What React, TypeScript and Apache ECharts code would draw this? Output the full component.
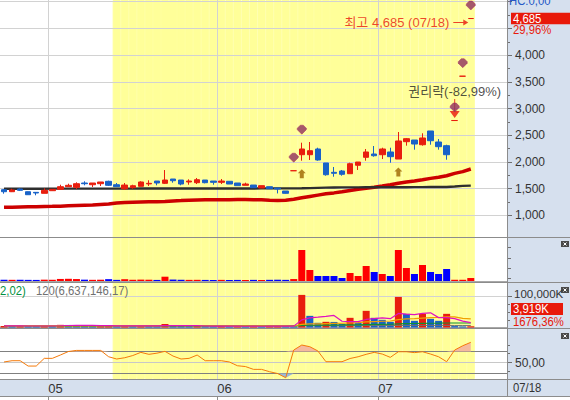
import React, { useEffect, useRef } from 'react';
import * as echarts from 'echarts';

// ---------------- data ----------------
const dates = [
  '04/22', '04/25', '04/26', '04/27', '04/28', '04/29',
  '05/02', '05/03', '05/04', '05/06', '05/09', '05/10', '05/11', '05/12', '05/13', '05/16', '05/17',
  '05/18', '05/19', '05/20', '05/23', '05/24', '05/25', '05/26', '05/27', '05/30', '05/31',
  '06/02', '06/03', '06/07', '06/08', '06/09', '06/10', '06/13', '06/14', '06/15', '06/16', '06/17',
  '06/20', '06/21', '06/22', '06/23', '06/24', '06/27', '06/28', '06/29', '06/30',
  '07/01', '07/04', '07/05', '07/06', '07/07', '07/08', '07/11', '07/12', '07/13', '07/14', '07/15', '07/18',
];
const futureSlots = ['+1', '+2', '+3', '+4'];

const opens = [
  1480, 1442, 1493, 1442, 1430, 1412, 1461, 1487, 1536, 1524,
  1605, 1573, 1592, 1637, 1573, 1498, 1517, 1543, 1588, 1642,
  1599, 1680, 1661, 1624, 1611, 1661, 1642, 1618, 1637, 1605,
  1562, 1567, 1511, 1536, 1511, 1455, 1835, 2135, 2135, 2242,
  1980, 1805, 1830, 1779, 1937, 2086, 2148, 2135, 2186, 2054,
  2379, 2410, 2322, 2579, 2373, 2304, 2775, 3605, 4685,
];
const closes = [
  1442, 1474, 1468, 1386, 1418, 1468, 1487, 1536, 1562, 1592,
  1592, 1605, 1624, 1562, 1536, 1567, 1554, 1624, 1599, 1605,
  1661, 1648, 1586, 1642, 1667, 1611, 1618, 1642, 1586, 1555,
  1586, 1517, 1555, 1498, 1493, 1412, 1835, 2242, 2210, 2036,
  1760, 1787, 1768, 1966, 1998, 2186, 2116, 2242, 2098, 2392,
  2435, 2335, 2448, 2397, 2285, 2135, 2775, 3605, 4685,
];
const lows = [
  1405, 1436, 1455, 1383, 1375, 1412, 1458, 1487, 1536, 1493,
  1562, 1530, 1549, 1549, 1536, 1474, 1498, 1543, 1549, 1562,
  1586, 1611, 1562, 1573, 1586, 1599, 1573, 1586, 1586, 1555,
  1562, 1517, 1511, 1493, 1410, 1405, 1835, 2023, 2036, 2023,
  1742, 1723, 1742, 1779, 1849, 2023, 2098, 2054, 1985, 2054,
  2304, 2229, 2304, 2322, 2229, 2041, 2775, 3605, 4685,
];
const highs = [
  1493, 1498, 1506, 1445, 1436, 1506, 1490, 1573, 1592, 1618,
  1637, 1605, 1624, 1648, 1605, 1605, 1573, 1637, 1656, 1642,
  1848, 1680, 1661, 1674, 1699, 1661, 1642, 1680, 1637, 1605,
  1611, 1567, 1555, 1536, 1511, 1455, 1835, 2360, 2373, 2266,
  1980, 1905, 1849, 1985, 1998, 2242, 2298, 2266, 2266, 2560,
  2448, 2410, 2536, 2579, 2429, 2322, 2775, 3605, 4685,
];
const maMid = [
  1150, 1153, 1156, 1159, 1162, 1165, 1168, 1172, 1180, 1185,
  1190, 1195, 1203, 1210, 1230, 1238, 1243, 1248, 1252, 1256,
  1260, 1270, 1276, 1284, 1288, 1291, 1292, 1293, 1293, 1294,
  1294, 1293, 1290, 1280, 1277, 1281, 1300, 1328, 1354, 1378,
  1402, 1420, 1442, 1466, 1487, 1506, 1524, 1548, 1573, 1602,
  1624, 1643, 1666, 1692, 1712, 1742, 1785, 1818, 1868,
];
const maLong = [
  1497, 1497, 1498, 1498, 1498, 1498, 1499, 1499, 1499, 1499,
  1499, 1500, 1500, 1500, 1500, 1500, 1500, 1501, 1501, 1501,
  1501, 1501, 1502, 1502, 1502, 1502, 1502, 1503, 1503, 1503,
  1503, 1503, 1504, 1504, 1504, 1504, 1505, 1507, 1510, 1514,
  1518, 1522, 1523, 1524, 1524, 1525, 1525, 1526, 1526, 1527,
  1527, 1528, 1528, 1529, 1529, 1530, 1540, 1552, 1556,
];
// panel 1 (trading value)
const tradeValue = [
  120, 115, 120, 110, 105, 130, 120, 200, 215, 190,
  130, 115, 125, 180, 110, 175, 120, 135, 125, 105,
  420, 140, 120, 110, 115, 105, 95, 110, 100, 105,
  95, 110, 100, 115, 125, 110, 190, 3030, 1075, 490,
  490, 490, 295, 780, 490, 1465, 880, 685, 490, 3030,
  1270, 685, 1565, 880, 685, 1170, 120, 120, 290,
];
// panel 2 (volume, K)
const volume = [
  5200, 4800, 5000, 4600, 4400, 5600, 5000, 8600, 8200, 7400,
  5200, 4600, 5000, 6800, 4400, 6600, 4800, 5400, 5000, 4200,
  11300, 5600, 4800, 4400, 4600, 4200, 3800, 4400, 4000, 4200,
  3800, 4400, 4000, 4600, 5200, 4800, 3200, 105500, 37700, 15200,
  18400, 18000, 11900, 31300, 15200, 53900, 31300, 24800, 18400, 99000,
  44200, 21600, 44200, 28100, 21600, 44200, 4500, 3500, 3919,
];
const volMa5 = [
  5100, 5000, 5000, 4900, 4800, 4900, 4900, 5600, 6400, 6800,
  6900, 6800, 6100, 5800, 5200, 5500, 5500, 5600, 5400, 5200,
  6300, 6300, 6200, 6100, 6200, 4800, 4400, 4300, 4200, 4200,
  4100, 4200, 4100, 4200, 4400, 4600, 4400, 24700, 31300, 33300,
  36000, 39000, 20200, 19000, 19000, 26000, 28700, 31300, 28700, 45500,
  43500, 41600, 45500, 47400, 32000, 32000, 28500, 20400, 15500,
];
const volMa20 = [
  5000, 5000, 5000, 5000, 5000, 5000, 5000, 5100, 5200, 5300,
  5300, 5300, 5300, 5400, 5400, 5400, 5400, 5500, 5500, 5500,
  5800, 5800, 5800, 5800, 5800, 5700, 5700, 5600, 5500, 5500,
  5400, 5300, 5200, 5100, 5100, 5000, 4900, 9900, 11500, 12000,
  12700, 13300, 13700, 15000, 15500, 18000, 19300, 20300, 21000, 25700,
  27700, 28600, 30600, 31800, 32400, 34400, 34400, 29400, 27700,
];
const volMa60 = [
  4800, 4800, 4800, 4800, 4800, 4800, 4800, 4800, 4800, 4800,
  4800, 4800, 4800, 4900, 4900, 4900, 4900, 4900, 5000, 5000,
  5100, 5100, 5100, 5100, 5100, 5100, 5100, 5100, 5100, 5100,
  5100, 5100, 5100, 5100, 5100, 5100, 5100, 6800, 7300, 7500,
  7800, 8000, 8200, 8600, 8800, 9500, 9900, 10200, 10500, 12000,
  12600, 12900, 13300, 13700, 13900, 14500, 14500, 14500, 14500,
];
const volMa120 = [
  5300, 5300, 5300, 5300, 5300, 5300, 5300, 5300, 5300, 5300,
  5300, 5300, 5300, 5300, 5300, 5300, 5300, 5300, 5300, 5300,
  5400, 5400, 5400, 5400, 5400, 5400, 5400, 5400, 5400, 5400,
  5400, 5400, 5400, 5400, 5400, 5400, 5400, 5800, 5950, 6000,
  6050, 6100, 6100, 6200, 6200, 6300, 6350, 6400, 6400, 6500,
  6550, 6600, 6600, 6650, 6650, 6700, 6650, 6640, 6637,
];
// panel 3 (oscillator)
const osc = [
  51, 53.3, 53.3, 43.6, 43.6, 57.6, 57.6, 63.6, 70, 72,
  72, 72, 72, 60.5, 56.4, 58.7, 62.7, 68.5, 64.9, 67,
  70.3, 61.8, 56.4, 57.6, 63.6, 53.3, 53.3, 53.3, 51, 44.2,
  42.7, 37.6, 37.6, 33.3, 30, 22.4, 72.7, 81.8, 78.7, 71,
  51.5, 51.5, 51.5, 57.3, 60.5, 64.9, 68.5, 65.4, 59.4, 69.6,
  69.6, 68, 69.6, 65.4, 60.5, 51.5, 72.7, 80.5, 86.7,
];

const priceTicks = [1000, 1500, 2000, 2500, 3000, 3500, 4000, 4500, 5000];
const priceLabels = [1000, 1500, 2000, 2500, 3000, 3500, 4000];
const priceMinorTicks = [1250, 1750, 2250, 2750, 3250, 3750, 4250, 4750];
const tradeTicks = [250, 1250, 2250, 3250];
const volumeTicks = [100000];
const volumeMinorTicks = [25000, 50000, 75000];
const oscTicks = [50];
const oscMinorTicks = [34, 66, 82];
const oscLevels = [30, 50, 70];
const oscUpper = 70;
const oscLower = 30;
const highlightFrom = 14;
const sellSignals = [36, 37, 56, 57, 58];
const buySignals = [37, 49];
const rightsOffIndex = 56;
const rightsOffText = '권리락(-82,99%)';
const volLegendTail = '2,02)';
const volLegend120 = '120(6,637,146,17)';
const volRatioText = '1676,36%';
const hcText = 'HC:0,00';

// ---------------- styling ----------------
const FONT = '"Liberation Sans", Arial, "Noto Sans CJK KR", sans-serif';
const RED = '#E81E0E';
const BLUE = '#1862C8';
const VRED = '#FF0000';
const VBLUE = '#0000FF';
const YELLOW = '#FFFF99';
const PANEL = '#D6E0EE';
const SEP = '#8C8C8C';
const GRIDLINE = '#D2D2D2';
const TXT = '#333333';
const NARROW = 0.87;

const SELL_SYMBOL = 'path://M3,0 L6,0 L9,3 L9,4.5 L4.5,9 L0,4.5 L0,3 Z';
const BUY_SYMBOL = 'path://M4,0 L8,4 L6,4 L6,9 L2,9 L2,4 L0,4 Z';
const RIGHTS_SYMBOL = 'path://M4.5,0 L5.5,0 L5.5,12 L10,12 L5,19 L0,12 L4.5,12 Z';
const ARROW_SYMBOL = 'path://M0,2.5 L10,2.5 L10,0 L15,3 L10,6 L10,3.5 L0,3.5 Z';

const slots = [...dates, ...futureSlots];
const boundaries = [...slots, 'end'];
const fmt = (v: number) => v.toLocaleString('en-US');
const isMonthStart = (i: number) =>
  i > 0 && i < dates.length && dates[i].slice(0, 2) !== dates[i - 1].slice(0, 2);
const candleSign = dates.map((_, i) =>
  closes[i] > opens[i] ? 1 : closes[i] < opens[i] ? -1 : i === 0 || closes[i] >= closes[i - 1] ? 1 : -1
);
const volUp = volume.map((v, i) => i === 0 || v >= volume[i - 1]);
const last = dates.length - 1;
const maxIdx = highs.indexOf(Math.max(...highs));

const catAxis = (gridIndex: number, extra: any = {}) => ({
  gridIndex,
  type: 'category',
  data: slots,
  boundaryGap: true,
  axisLine: { show: false },
  axisTick: { show: false },
  axisLabel: { show: false },
  splitLine: { show: false },
  ...extra,
});

const gridBase = { left: 0, right: 63, containLabel: false, outerBoundsMode: 'none', show: false };

function buildOption(): any {
  const labelFont = { color: TXT, fontSize: 12, fontFamily: FONT };
  const oscAxis = { xAxisIndex: 3, yAxisIndex: 5, symbol: 'none', silent: true };
  return {
    animation: false,
    backgroundColor: '#ffffff',
    textStyle: { fontFamily: FONT },
    grid: [
      { ...gridBase, top: 0, height: 237 },
      { ...gridBase, top: 238, height: 43 },
      { ...gridBase, top: 283, height: 44.5 },
      { ...gridBase, top: 329.5, height: 49 },
      { ...gridBase, top: 379, height: 17 },
      { ...gridBase, top: 0, height: 379 },
    ],
    xAxis: [
      catAxis(0),
      catAxis(1, { z: 1, axisLine: { show: true, lineStyle: { color: '#A8A8A8', width: 1 } } }),
      catAxis(2, { z: 1, axisLine: { show: true, lineStyle: { color: '#A8A8A8', width: 1 } } }),
      catAxis(3),
      {
        gridIndex: 4,
        type: 'category',
        data: boundaries,
        boundaryGap: false,
        position: 'top',
        axisLine: { show: false },
        axisTick: {
          show: true,
          inside: true,
          length: 17,
          interval: (i: number) => isMonthStart(i),
          lineStyle: { color: SEP, width: 1 },
        },
        axisLabel: {
          show: true,
          inside: true,
          margin: 3,
          align: 'left',
          interval: (i: number) => isMonthStart(i),
          formatter: (v: string) => v.slice(0, 2),
          ...labelFont,
          fontSize: 13,
        },
        splitLine: { show: false },
      },
      catAxis(5, {
        z: 1,
        splitLine: { show: true, interval: (i: number) => isMonthStart(i), lineStyle: { color: GRIDLINE, width: 1 } },
      }),
    ],
    yAxis: [
      {
        gridIndex: 0, type: 'value', position: 'right', min: 594, max: 5032,
        axisLine: { show: false }, splitLine: { show: false },
        axisTick: { show: true, customValues: priceTicks, length: 5, lineStyle: { color: '#707070' } },
        axisLabel: { show: true, customValues: priceLabels, formatter: (v: number) => fmt(v), margin: 8, ...labelFont },
      },
      {
        gridIndex: 0, type: 'value', position: 'right', min: 594, max: 5032,
        axisLine: { show: false }, splitLine: { show: false },
        axisTick: { show: true, customValues: priceMinorTicks, length: 3, lineStyle: { color: '#707070' } },
        axisLabel: { show: false },
      },
      {
        gridIndex: 1, type: 'value', position: 'right', min: 0, max: 4200,
        axisLine: { show: false }, splitLine: { show: false },
        axisTick: { show: true, customValues: tradeTicks, length: 4, lineStyle: { color: '#707070' } },
        axisLabel: { show: false },
      },
      {
        gridIndex: 2, type: 'value', position: 'right', min: 0, max: 144000,
        axisLine: { show: false }, splitLine: { show: false },
        axisTick: { show: true, customValues: volumeTicks, length: 5, lineStyle: { color: '#707070' } },
        axisLabel: {
          show: true, customValues: volumeTicks, formatter: (v: number) => fmt(v) + 'K', margin: 7,
          ...labelFont, fontSize: 11.5, verticalAlign: 'bottom', padding: [0, 0, -3, 0],
        },
      },
      {
        gridIndex: 2, type: 'value', position: 'right', min: 0, max: 144000,
        axisLine: { show: false }, splitLine: { show: false },
        axisTick: { show: true, customValues: volumeMinorTicks, length: 3, lineStyle: { color: '#707070' } },
        axisLabel: { show: false },
      },
      {
        gridIndex: 3, type: 'value', position: 'right', min: 21, max: 110,
        axisLine: { show: false }, splitLine: { show: false },
        axisTick: { show: true, customValues: oscTicks, length: 5, lineStyle: { color: '#707070' } },
        axisLabel: {
          show: true, customValues: oscTicks, margin: 8,
          formatter: (v: number) => v.toFixed(2).replace('.', ','), ...labelFont,
        },
      },
      {
        gridIndex: 3, type: 'value', position: 'right', min: 21, max: 110,
        axisLine: { show: false }, splitLine: { show: false },
        axisTick: { show: true, customValues: oscMinorTicks, length: 3, lineStyle: { color: '#707070' } },
        axisLabel: { show: false },
      },
      { gridIndex: 4, type: 'value', show: false, min: 0, max: 1 },
      { gridIndex: 5, type: 'value', show: false, min: 0, max: 1 },
    ],
    series: [
      // highlight band
      {
        type: 'bar', xAxisIndex: 5, yAxisIndex: 8, z: 0, silent: true, barWidth: '100%',
        data: slots.map((_, i) => (i >= highlightFrom && i < dates.length ? 1 : null)),
        itemStyle: { color: YELLOW, borderColor: YELLOW, borderWidth: 1 },
      },
      // price grid lines
      {
        type: 'line', xAxisIndex: 0, yAxisIndex: 0, z: 1, data: [], silent: true,
        markLine: {
          z: 1, silent: true, symbol: ['none', 'none'], label: { show: false },
          lineStyle: { color: GRIDLINE, width: 1, type: 'solid' },
          data: priceTicks.map((v) => ({ yAxis: v })),
        },
      },
      // red MA
      {
        type: 'line', xAxisIndex: 0, yAxisIndex: 0, z: 2, data: maMid, symbol: 'none', silent: true,
        lineStyle: { color: '#CC0000', width: 3.5 },
      },
      // black MA
      {
        type: 'line', xAxisIndex: 0, yAxisIndex: 0, z: 2, data: maLong, symbol: 'none', silent: true,
        lineStyle: { color: '#2E2E2E', width: 2.4 },
      },
      // candles
      {
        type: 'candlestick', xAxisIndex: 0, yAxisIndex: 0, z: 3, barWidth: 6,
        data: dates.map((_, i) => [opens[i], closes[i], lows[i], highs[i]]),
        itemStyle: {
          color: RED, color0: BLUE, borderColor: RED, borderColor0: BLUE, borderColorDoji: RED, borderWidth: 1,
        },
      },
      // rights-off marker
      {
        type: 'scatter', xAxisIndex: 0, yAxisIndex: 0, z: 4,
        data: [[rightsOffIndex, highs[rightsOffIndex]]],
        symbol: RIGHTS_SYMBOL, symbolSize: [10, 19], symbolOffset: [0, -12],
        itemStyle: { color: '#E8140A' },
        label: { show: true, position: 'top', distance: 1, formatter: rightsOffText, color: '#222', fontSize: 13, fontFamily: FONT },
      },
      // sell markers
      {
        type: 'scatter', xAxisIndex: 0, yAxisIndex: 0, z: 5,
        data: sellSignals.map((i) => [i, highs[i]]),
        symbol: SELL_SYMBOL, symbolSize: [9, 9], symbolOffset: [0, -13],
        itemStyle: { color: '#8E2F5E', borderColor: '#A8285A', borderWidth: 0.6 },
      },
      // buy markers
      {
        type: 'scatter', xAxisIndex: 0, yAxisIndex: 0, z: 5,
        data: buySignals.map((i) => [i, lows[i]]),
        symbol: BUY_SYMBOL, symbolSize: [8, 9], symbolOffset: [0, 13],
        itemStyle: { color: '#9C6400' },
      },
      // high marker
      {
        type: 'scatter', xAxisIndex: 0, yAxisIndex: 0, z: 5,
        data: [[maxIdx, highs[maxIdx]]],
        symbol: ARROW_SYMBOL, symbolSize: [15, 6], symbolOffset: [-10, 4],
        itemStyle: { color: '#E8140A' },
        label: {
          show: true, position: 'left', distance: 4,
          formatter: `최고 ${fmt(highs[maxIdx])} (${dates[maxIdx]})`,
          color: '#E8140A', fontSize: 13, fontFamily: FONT,
        },
      },
      // trading value bars
      {
        type: 'bar', xAxisIndex: 1, yAxisIndex: 2, z: 2, barWidth: 7, data: tradeValue,
        itemStyle: { color: (p: any) => (candleSign[p.dataIndex] > 0 ? VRED : VBLUE) },
      },
      // volume bars
      {
        type: 'bar', xAxisIndex: 2, yAxisIndex: 3, z: 2, barWidth: 7, data: volume,
        itemStyle: { color: (p: any) => (volUp[p.dataIndex] ? RED : BLUE) },
      },
      // volume grid line
      {
        type: 'line', xAxisIndex: 2, yAxisIndex: 3, z: 1, data: [], silent: true,
        markLine: {
          z: 1, silent: true, symbol: ['none', 'none'], label: { show: false },
          lineStyle: { color: GRIDLINE, width: 1, type: 'solid' },
          data: volumeTicks.map((v) => ({ yAxis: v })),
        },
      },
      // volume MAs
      { type: 'line', xAxisIndex: 2, yAxisIndex: 3, z: 3, data: volMa120, symbol: 'none', lineStyle: { color: '#707070', width: 1 } },
      { type: 'line', xAxisIndex: 2, yAxisIndex: 3, z: 3, data: volMa60, symbol: 'none', lineStyle: { color: '#109030', width: 1.2 } },
      { type: 'line', xAxisIndex: 2, yAxisIndex: 3, z: 3, data: volMa20, symbol: 'none', lineStyle: { color: '#F0A000', width: 1.2 } },
      { type: 'line', xAxisIndex: 2, yAxisIndex: 3, z: 3, data: volMa5, symbol: 'none', lineStyle: { color: '#E010C0', width: 1.2 } },
      // oscillator level lines
      {
        type: 'line', xAxisIndex: 3, yAxisIndex: 5, z: 1, data: [], silent: true,
        markLine: {
          z: 1, silent: true, symbol: ['none', 'none'], label: { show: false },
          lineStyle: { width: 1, type: 'solid' },
          data: oscLevels.map((v) => ({ yAxis: v, lineStyle: { color: v === 50 ? '#C8C8C8' : '#808080', width: 1, type: 'solid' } })),
        },
      },
      // fill above the upper level: base at level + excess stacked on it
      { ...oscAxis, type: 'line', z: 2, stack: 'oscUp', data: osc.map(() => oscUpper), lineStyle: { width: 0, opacity: 0 } },
      {
        ...oscAxis, type: 'line', z: 2, stack: 'oscUp', data: osc.map((v) => Math.max(v - oscUpper, 0)),
        lineStyle: { width: 0, opacity: 0 }, areaStyle: { color: '#F5BA9E', opacity: 1 },
      },
      // fill below the lower level
      { ...oscAxis, type: 'line', z: 2, stack: 'oscDn', data: osc.map((v) => Math.min(v, oscLower)), lineStyle: { width: 0, opacity: 0 } },
      {
        ...oscAxis, type: 'line', z: 2, stack: 'oscDn', data: osc.map((v) => Math.max(oscLower - v, 0)),
        lineStyle: { width: 0, opacity: 0 }, areaStyle: { color: '#9DBAD6', opacity: 1 },
      },
      // oscillator line
      {
        type: 'line', xAxisIndex: 3, yAxisIndex: 5, z: 3, data: osc, symbol: 'none',
        lineStyle: { color: '#F57A0A', width: 1 },
      },
    ],
  };
}

function buildGraphic(priceY: number): any[] {
  const hline = (y: number) => ({
    type: 'line', z: 10, silent: true,
    shape: { x1: 0, y1: y, x2: 570, y2: y }, style: { stroke: SEP, lineWidth: 1 },
  });
  const closeIcon = (y: number) => ({
    type: 'group', x: 561, y, z: 11, silent: true,
    children: [
      { type: 'rect', shape: { x: 0, y: 0, width: 8, height: 6 }, style: { fill: '#4A4A4A' } },
      { type: 'line', shape: { x1: 2.5, y1: 1.5, x2: 5.5, y2: 4.5 }, style: { stroke: '#fff', lineWidth: 1 } },
      { type: 'line', shape: { x1: 5.5, y1: 1.5, x2: 2.5, y2: 4.5 }, style: { stroke: '#fff', lineWidth: 1 } },
    ],
  });
  const txt = (text: string, x: number, y: number, fill: string) => ({
    type: 'text', z: 12, silent: true, x, y, scaleX: NARROW,
    style: { text, fill, fontSize: 13, fontFamily: FONT, verticalAlign: 'middle', align: 'left' },
  });
  const lastClose = closes[last];
  const change = (((lastClose - closes[last - 1]) / closes[last - 1]) * 100).toFixed(2).replace('.', ',') + '%';
  return [
    { type: 'rect', z: -1, silent: true, shape: { x: 507, y: 0, width: 63, height: 397 }, style: { fill: PANEL } },
    { type: 'rect', z: -1, silent: true, shape: { x: 0, y: 379, width: 570, height: 17 }, style: { fill: PANEL } },
    hline(237.5), hline(282.5), hline(328.5), hline(379.5), hline(396.5),
    { type: 'line', z: 10, silent: true, shape: { x1: 507.5, y1: 0, x2: 507.5, y2: 396 }, style: { stroke: SEP, lineWidth: 1 } },
    txt(hcText, 509, 0.5, '#2458C6'),
    { type: 'rect', z: 11, silent: true, shape: { x: 511, y: priceY - 5.8, width: 59, height: 11.6 }, style: { fill: '#E8190A' } },
    txt(fmt(lastClose), 513, priceY, '#ffffff'),
    txt(change, 513, priceY + 11.5, '#E8190A'),
    { type: 'rect', z: 11, silent: true, shape: { x: 511, y: 303, width: 52, height: 12 }, style: { fill: '#E8190A' } },
    txt(fmt(volume[last]) + 'K', 513, 309, '#ffffff'),
    txt(volRatioText, 513, 321.5, '#E8190A'),
    txt(dates[last], 513, 388, TXT),
    txt(volLegendTail, 0, 291, '#009040'),
    txt(volLegend120, 36, 291, '#707070'),
    closeIcon(241), closeIcon(287), closeIcon(333),
  ];
}

export default function App() {
  const ref = useRef<HTMLDivElement>(null);
  useEffect(() => {
    if (!ref.current) return;
    const chart = echarts.init(ref.current, null, { renderer: 'svg' });
    chart.setOption(buildOption());
    const py = chart.convertToPixel({ yAxisIndex: 0 }, closes[last]) as unknown as number;
    chart.setOption({ graphic: { elements: buildGraphic(typeof py === 'number' && isFinite(py) ? py : 17.7) } });
    return () => chart.dispose();
  }, []);
  return <div ref={ref} style={{ position: 'fixed', left: 0, top: 0, width: 570, height: 400 }} />;
}
